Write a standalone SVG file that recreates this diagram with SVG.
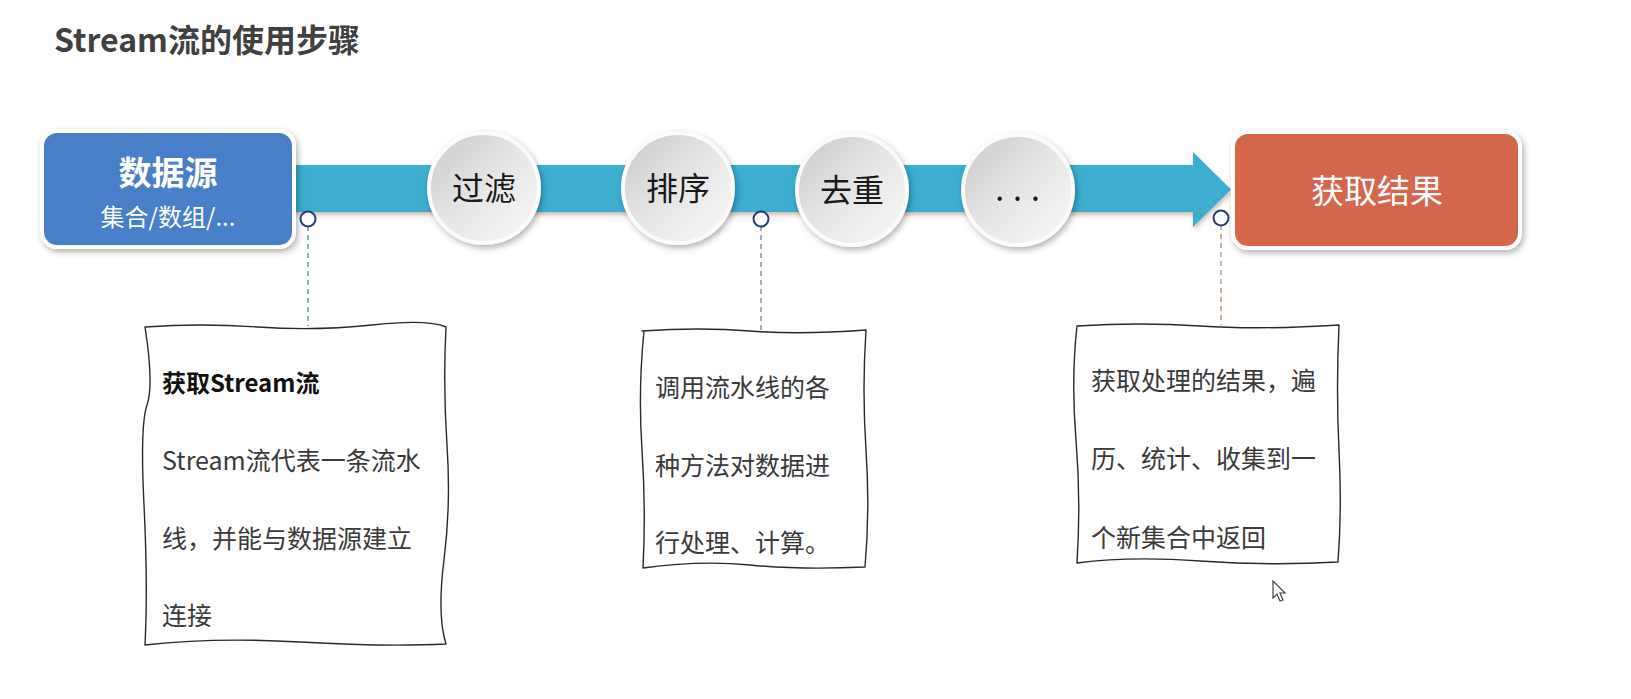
<svg xmlns="http://www.w3.org/2000/svg" width="1631" height="699" viewBox="0 0 1631 699">
<defs>
<style>
.cjk{font-family:"Noto Sans CJK SC","Noto Sans",sans-serif;}
.title{font-size:32px;font-weight:bold;fill:#404040;}
.circ{fill:url(#cg);stroke:#fbfbfb;stroke-width:4;filter:url(#sh);}
.ctext{font-size:32px;fill:#1a1a1a;text-anchor:middle;}
.note{fill:#fff;stroke:#2a2a2a;stroke-width:1.4;stroke-linejoin:round;}
.ntext{font-size:25px;fill:#3a3a3a;}
.pin{fill:#fff;stroke:#223f6e;stroke-width:2;}
</style>
<linearGradient id="cg" x1="0" y1="0" x2="1" y2="1">
<stop offset="0" stop-color="#c9c9c9"/>
<stop offset="0.5" stop-color="#e6e6e6"/>
<stop offset="1" stop-color="#fafafa"/>
</linearGradient>
<filter id="sh" x="-20%" y="-20%" width="150%" height="150%">
<feDropShadow dx="2" dy="3" stdDeviation="3" flood-color="#000" flood-opacity="0.3"/>
</filter>
<filter id="sh2" x="-10%" y="-20%" width="120%" height="150%">
<feDropShadow dx="1" dy="3" stdDeviation="2" flood-color="#7a3a30" flood-opacity="0.35"/>
</filter>
</defs>
<rect width="1631" height="699" fill="#fff"/>
<text class="cjk title" x="54" y="52">Stream流的使用步骤</text>

<g id="connectors">
<path d="M294,165 H1193 V152 L1231,189.5 L1193,227 V212 H294 Z" fill="#3eadd0" filter="url(#sh2)"/>
<line x1="308" y1="226" x2="308" y2="326" stroke="#5aa596" stroke-width="1.5" stroke-dasharray="5,4"/>
<line x1="761" y1="226" x2="761" y2="330" stroke="#9a86a8" stroke-width="1.5" stroke-dasharray="5,4"/>
<line x1="1221" y1="225" x2="1221" y2="325" stroke="#c49a80" stroke-width="1.5" stroke-dasharray="5,4"/>
</g>

<g id="node-source">
<rect x="42" y="131" width="252" height="116" rx="15" fill="#4a7ec8" stroke="#fff" stroke-width="4" filter="url(#sh)"/>
<text class="cjk" x="168" y="185" font-size="33" font-weight="bold" fill="#fff" text-anchor="middle">数据源</text>
<text class="cjk" x="168" y="226" font-size="24" fill="#fff" text-anchor="middle">集合/数组/...</text>
</g>

<g id="node-filter">
<circle class="circ" cx="484" cy="188" r="55"/>
<text class="cjk ctext" x="484" y="200">过滤</text>
</g>
<g id="node-sort">
<circle class="circ" cx="678" cy="188" r="55"/>
<text class="cjk ctext" x="678" y="200">排序</text>
</g>
<g id="node-distinct">
<circle class="circ" cx="852" cy="190" r="55"/>
<text class="cjk ctext" x="852" y="202">去重</text>
</g>
<g id="node-more">
<circle class="circ" cx="1018" cy="190" r="55"/>
<text class="cjk ctext" x="1022" y="201" letter-spacing="9">...</text>
</g>

<g id="node-result">
<rect x="1233" y="132" width="287" height="116" rx="15" fill="#d4664b" stroke="#fff" stroke-width="4" filter="url(#sh)"/>
<text class="cjk" x="1377" y="203" font-size="33" fill="#fff" text-anchor="middle">获取结果</text>
</g>

<g id="pins">
<circle class="pin" cx="308" cy="219" r="7.5"/>
<circle class="pin" cx="761" cy="219" r="7.5"/>
<circle class="pin" cx="1221" cy="218" r="7.5"/>
</g>

<g id="note-1">
<path class="note" d="M145,327 Q200,323 258,327 T372,325 T446,327 Q443,385 447,445 T444,560 T446,644 Q385,647 300,642 T145,645 Q148,585 144,505 T147,405 T145,327 Z"/>
<text class="cjk" x="162" y="392" font-size="24" font-weight="bold" fill="#111">获取Stream流</text>
<text class="cjk ntext" x="162" y="470">Stream流代表一条流水</text>
<text class="cjk ntext" x="162" y="548">线，并能与数据源建立</text>
<text class="cjk ntext" x="162" y="625">连接</text>
</g>

<g id="note-2">
<path class="note" d="M642,331 Q700,327 750,331 T866,330 Q862,390 866,450 T865,567 Q800,570 750,565 T643,568 Q646,510 642,450 T644,331 Z"/>
<text class="cjk ntext" x="655" y="397">调用流水线的各</text>
<text class="cjk ntext" x="655" y="475">种方法对数据进</text>
<text class="cjk ntext" x="655" y="552">行处理、计算。</text>
</g>

<g id="note-3">
<path class="note" d="M1077,326 Q1140,322 1200,326 T1339,325 Q1336,390 1339,450 T1338,562 Q1270,566 1200,561 T1077,563 Q1081,500 1076,440 T1077,326 Z"/>
<text class="cjk ntext" x="1091" y="390">获取处理的结果，遍</text>
<text class="cjk ntext" x="1091" y="468">历、统计、收集到一</text>
<text class="cjk ntext" x="1091" y="547">个新集合中返回</text>
</g>

<path d="M1273,581 L1273,598 L1277,594 L1280,601 L1283,600 L1280,593 L1285,593 Z" fill="#fff" stroke="#444" stroke-width="1.2"/>
</svg>
